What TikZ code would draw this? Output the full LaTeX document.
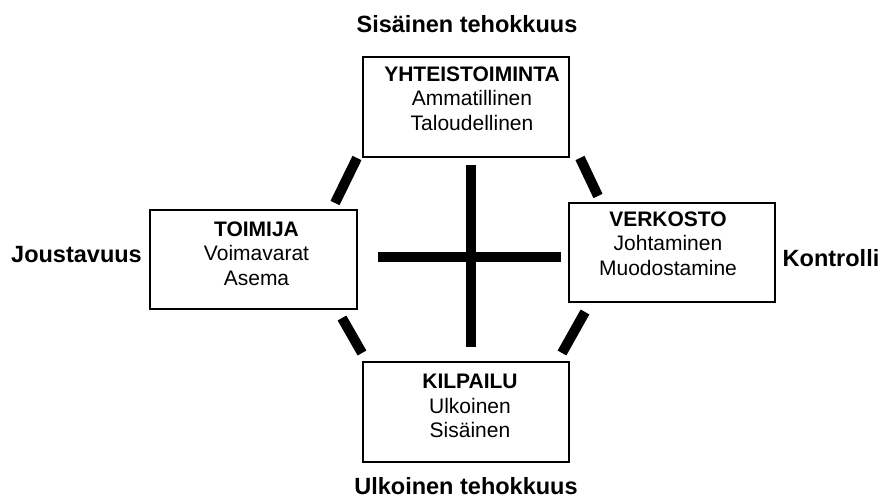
\documentclass[tikz,border=0pt]{standalone}
\usepackage{fontspec}
\setmainfont{Liberation Sans}
\usetikzlibrary{positioning}
\tikzset{
  area/.style={draw, line width=1.6pt, minimum width=206pt, minimum height=100pt, inner sep=0pt},
  areatext/.style={align=center, inner sep=0pt, font=\fontsize{21}{24.5}\selectfont},
  axislabel/.style={anchor=base, inner sep=0pt, font=\fontsize{23.5}{28}\selectfont\bfseries},
  bar/.style={line width=10pt, line cap=butt}
}
\begin{document}
\begin{tikzpicture}[x=1pt, y=-1pt]
\useasboundingbox (0,0) rectangle (883,500);

\node (yht) [area] at (466,107) {};
\node (toimija) [area, minimum width=207pt, minimum height=99pt] at (253.5,259.5) {};
\node (verkosto) [area, minimum height=99pt] at (672,252.5) {};
\node (kilpailu) [area] at (466,412) {};

\node (yht-t) [areatext, below=10pt of yht.north, xshift=6pt] {\textbf{YHTEISTOIMINTA}\\Ammatillinen\\Taloudellinen};
\node (toimija-t) [areatext, below=12pt of toimija.north, xshift=3pt] {\textbf{TOIMIJA}\\Voimavarat\\Asema};
\node (verkosto-t) [areatext, below=9pt of verkosto.north, xshift=-4pt] {\textbf{VERKOSTO}\\Johtaminen\\Muodostamine};
\node (kilpailu-t) [areatext, below=13pt of kilpailu.north, xshift=4pt] {\textbf{KILPAILU}\\Ulkoinen\\Sisäinen};

\node (sisainen) [axislabel] at (467,33) {Sisäinen tehokkuus};
\node (ulkoinen) [axislabel] at (466,494) {Ulkoinen tehokkuus};
\node (joustavuus) [axislabel] at (76.5,262) {Joustavuus};
\node (kontrolli) [axislabel] at (831,266) {Kontrolli};

\coordinate (vtop) at (471,165);
\coordinate (vbot) at (471,347);
\coordinate (hleft) at (378,257);
\coordinate (hright) at (561,257);
\coordinate (tl1) at (357,158);
\coordinate (tl2) at (335,203);
\coordinate (tr1) at (580,158);
\coordinate (tr2) at (598,196);
\coordinate (bl1) at (342,318);
\coordinate (bl2) at (362,353);
\coordinate (br1) at (585,312);
\coordinate (br2) at (562,353);

\draw [bar] (vtop) -- (vbot);
\draw [bar] (hleft) -- (hright);
\draw [bar] (tl1) -- (tl2);
\draw [bar] (tr1) -- (tr2);
\draw [bar] (bl1) -- (bl2);
\draw [bar] (br1) -- (br2);
\end{tikzpicture}
\end{document}
